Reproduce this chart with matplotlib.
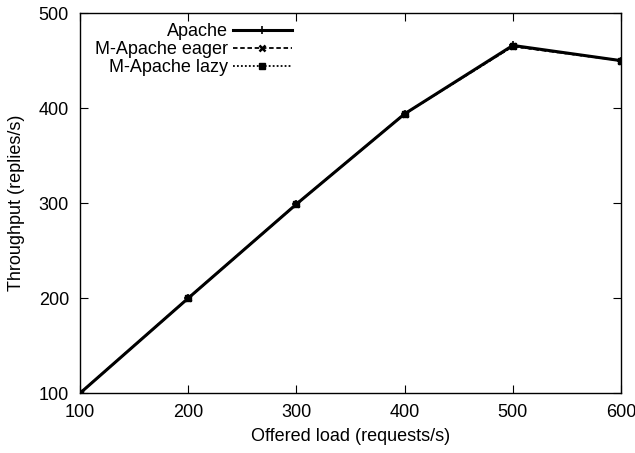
import matplotlib
matplotlib.use("Agg")
import matplotlib.pyplot as plt

plt.rcParams['font.family'] = ['Liberation Sans', 'DejaVu Sans']

load = [100, 200, 300, 400, 500, 600]
apache = [100, 200, 299, 394, 466, 450]
eager = [100, 200, 299, 394, 465, 450]
lazy = [100, 200, 299, 394, 465, 450]
xticks = [100, 200, 300, 400, 500, 600]
yticks = [100, 200, 300, 400, 500]

FS = 13

fig = plt.figure(figsize=(6.35, 4.53), dpi=100)
ax = fig.add_axes([0.126, 0.132, 0.852, 0.839])

ax.plot(load, apache, color='black', lw=2.2, ls='-', marker='+', ms=6, mew=1.2, label='Apache')
ax.plot(load, eager, color='black', lw=1.3, ls=(0, (2.5, 1.5)), marker='x', ms=5, mew=1.8, label='M-Apache eager')
ax.plot(load, lazy, color='black', lw=1.3, ls=(0, (1, 1.2)), marker='s', ms=5, label='M-Apache lazy')

ax.set_xlim(100, 600)
ax.set_ylim(100, 500)
ax.set_xticks(xticks)
ax.set_yticks(yticks)
ax.tick_params(direction='in', top=True, right=True, labelsize=FS, length=6)
ax.tick_params(axis='y', pad=8)
ax.tick_params(axis='x', pad=8)
ax.set_xlabel('Offered load (requests/s)', fontsize=FS, labelpad=5)
ax.set_ylabel('Throughput (replies/s)', fontsize=FS, labelpad=10)
for s in ax.spines.values():
    s.set_linewidth(1)

leg = ax.legend(loc='upper right', bbox_to_anchor=(0.392, 0.974), frameon=False, markerfirst=False,
                fontsize=FS, handlelength=3.3, labelspacing=0.05, handletextpad=0.25,
                borderaxespad=0, borderpad=0)
for t in leg.get_texts():
    t.set_ha('right')
leg._legend_box.align = 'right'

fig.savefig('out.png', dpi=100)
